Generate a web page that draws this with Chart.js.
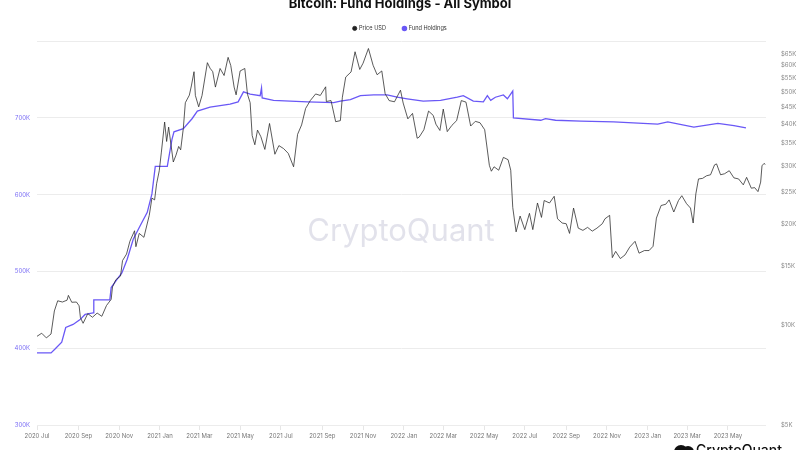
<!DOCTYPE html>
<html><head><meta charset="utf-8">
<script src="https://cdn.jsdelivr.net/npm/chart.js@4/dist/chart.umd.min.js"></script>
<style>
html,body{margin:0;padding:0;background:#fff;overflow:hidden;width:800px;height:450px;}
#wrap{position:absolute;left:0;top:-10px;width:800px;height:460px;}
</style></head>
<body><div id="wrap"><canvas id="c" width="800" height="460"></canvas></div>
<script>
const chartTitle = 'Bitcoin: Fund Holdings - All Symbol';
const seriesNames = ['Price USD', 'Fund Holdings'];

const priceDates = ['2020-07-01','2020-07-08','2020-07-15','2020-07-22','2020-07-27','2020-08-01','2020-08-08','2020-08-15','2020-08-17','2020-08-22','2020-08-29','2020-09-02','2020-09-04','2020-09-08','2020-09-15','2020-09-22','2020-09-29','2020-10-06','2020-10-13','2020-10-20','2020-10-22','2020-10-27','2020-11-03','2020-11-06','2020-11-12','2020-11-17','2020-11-24','2020-11-26','2020-12-01','2020-12-08','2020-12-16','2020-12-20','2020-12-24','2020-12-27','2020-12-31',
'2021-01-03','2021-01-08','2021-01-11','2021-01-14','2021-01-21','2021-01-25','2021-01-29','2021-02-01','2021-02-05','2021-02-08','2021-02-14','2021-02-17','2021-02-21','2021-02-23','2021-02-28','2021-03-05','2021-03-13','2021-03-17','2021-03-21','2021-03-25','2021-04-01','2021-04-07','2021-04-13','2021-04-17','2021-04-22','2021-04-25','2021-05-01','2021-05-08','2021-05-12','2021-05-16','2021-05-19','2021-05-23','2021-05-27','2021-06-01','2021-06-07','2021-06-14','2021-06-22','2021-06-28','2021-07-05','2021-07-12','2021-07-20','2021-07-26','2021-08-01','2021-08-07','2021-08-14','2021-08-22','2021-08-29','2021-09-06','2021-09-07','2021-09-14','2021-09-21','2021-09-28','2021-10-01','2021-10-06','2021-10-14','2021-10-20','2021-10-27','2021-11-01','2021-11-09','2021-11-16','2021-11-22','2021-11-29','2021-12-04','2021-12-10','2021-12-18','2021-12-27','2021-12-31',
'2022-01-07','2022-01-14','2022-01-21','2022-01-24','2022-01-31','2022-02-07','2022-02-14','2022-02-18','2022-02-24','2022-03-01','2022-03-07','2022-03-14','2022-03-21','2022-03-28','2022-04-04','2022-04-11','2022-04-18','2022-04-25','2022-05-02','2022-05-09','2022-05-12','2022-05-16','2022-05-23','2022-05-30','2022-06-06','2022-06-10','2022-06-13','2022-06-18','2022-06-24','2022-07-01','2022-07-08','2022-07-13','2022-07-20','2022-07-26','2022-07-30','2022-08-07','2022-08-14','2022-08-19','2022-08-26','2022-09-01','2022-09-06','2022-09-12','2022-09-19','2022-09-26','2022-10-03','2022-10-10','2022-10-17','2022-10-25','2022-10-29','2022-11-05','2022-11-09','2022-11-14','2022-11-21','2022-11-28','2022-12-05','2022-12-13','2022-12-19','2022-12-27',
'2023-01-03','2023-01-09','2023-01-14','2023-01-21','2023-01-28','2023-02-02','2023-02-09','2023-02-16','2023-02-21','2023-02-28','2023-03-06','2023-03-10','2023-03-14','2023-03-18','2023-03-24','2023-03-30','2023-04-05','2023-04-11','2023-04-14','2023-04-20','2023-04-26','2023-05-03','2023-05-10','2023-05-17','2023-05-24','2023-05-29','2023-06-05','2023-06-10','2023-06-15','2023-06-19','2023-06-21','2023-06-24','2023-06-26'];
const priceValues = [9230,9430,9130,9380,11000,11800,11700,11850,12250,11680,11700,11400,10500,10100,10800,10530,10840,10600,11420,11920,12990,13650,14000,15580,16300,17800,19150,17150,18800,18300,21300,24000,23700,26500,29000,
32800,40600,35500,39200,30800,32300,34300,33500,38900,46400,48900,52100,57500,48800,45100,48800,61200,58900,57500,51700,58800,56000,63500,60000,51700,49000,57800,58800,49200,46400,37000,34700,38400,36700,33600,40200,32500,34500,33800,32700,29800,37300,39800,44600,47100,49300,48800,51800,46800,47100,40700,41000,48200,55400,57400,66000,58400,61000,67500,60100,56300,57800,49400,47100,46700,50600,46300,
41500,43100,36300,36600,38500,43800,42500,40000,38300,44400,38000,39700,41000,47100,46600,39500,40800,40400,38500,30100,28900,29800,29100,31800,31300,29100,22500,19000,21200,19300,21600,19300,23200,21000,23600,23200,24300,20800,20200,20100,18800,22400,19500,19200,19600,19100,19500,20100,20800,21300,15900,16600,15800,16200,17100,17800,16400,16700,
16700,17200,20900,22800,23000,23700,21800,23600,24400,23100,22400,20200,24700,27400,27500,28000,28200,30200,30400,28200,28400,29000,27600,27400,26300,27700,25700,25800,25100,26800,30000,30500,30300];

const fundDates = ['2020-07-01','2020-07-22','2020-07-28','2020-08-07','2020-08-13','2020-08-24','2020-09-03','2020-09-11','2020-09-23','2020-09-24','2020-10-18','2020-10-20','2020-10-29','2020-11-05','2020-11-13','2020-11-22','2020-12-02','2020-12-13','2020-12-20','2020-12-25','2021-01-12','2021-01-19','2021-01-22','2021-02-05','2021-02-18','2021-02-26','2021-03-17','2021-04-16','2021-04-28','2021-05-06','2021-05-16','2021-05-31','2021-06-02','2021-06-03','2021-06-20','2021-07-15','2021-08-10','2021-09-18','2021-09-28','2021-10-13','2021-10-28','2021-11-17','2021-12-07','2021-12-22','2022-01-06','2022-01-30','2022-02-25','2022-03-22','2022-03-31','2022-04-15','2022-04-30','2022-05-06','2022-05-11','2022-05-18','2022-05-30','2022-06-05','2022-06-13','2022-06-14','2022-07-25','2022-08-01','2022-08-16','2022-09-23','2022-11-11','2023-01-16','2023-01-31','2023-03-11','2023-04-16','2023-05-10','2023-05-28'];
const fundValues = [394000,394000,399000,408000,427000,431000,437000,444000,446000,463000,463000,479000,490000,498000,516000,542000,559000,577000,601000,637000,637000,672000,682000,686000,699000,709000,714000,718000,721000,734000,731000,729000,739000,726000,723000,722000,721000,720000,722000,724000,729000,730000,730000,727000,725000,722000,723000,727000,729000,722000,721000,729000,723000,727000,730000,725000,735000,700000,697000,699000,697000,696000,695000,692000,695000,688000,693000,690000,687000];

const xTickDates = ['2020-07-01','2020-09-01','2020-11-01','2021-01-01','2021-03-01','2021-05-01','2021-07-01','2021-09-01','2021-11-01','2022-01-01','2022-03-01','2022-05-01','2022-07-01','2022-09-01','2022-11-01','2023-01-01','2023-03-01','2023-05-01'];
const xTickLabels = ['2020 Jul','2020 Sep','2020 Nov','2021 Jan','2021 Mar','2021 May','2021 Jul','2021 Sep','2021 Nov','2022 Jan','2022 Mar','2022 May','2022 Jul','2022 Sep','2022 Nov','2023 Jan','2023 Mar','2023 May'];
const xStart = '2020-07-01';
const xEnd = '2023-06-27';
const leftTicks = [300000,400000,500000,600000,700000,800000];
const rightTicks = [5000,10000,15000,20000,25000,30000,35000,40000,45000,50000,55000,60000,65000];

const day = d => (Date.parse(d) - Date.parse(xStart)) / 86400000;
const pricePts = priceDates.map((d,i)=>({x:day(d), y:priceValues[i]}));
const fundPts = fundDates.map((d,i)=>({x:day(d), y:fundValues[i]}));

const FONT = 'Inter';
const PURPLE = 'rgb(106,88,246)';

const marks = {
  id:'marks',
  beforeDatasetsDraw(chart){
    const ctx = chart.ctx;
    ctx.save();
    ctx.font = '400 31px Inter';
    ctx.fillStyle = 'rgba(190,190,210,0.45)';
    ctx.textAlign = 'center';
    ctx.textBaseline = 'middle';
    ctx.fillText('CryptoQuant', 401, 242);
    ctx.restore();
  },
  afterDraw(chart){
    const ctx = chart.ctx;
    ctx.save();
    ctx.fillStyle = '#111';
    ctx.beginPath();
    ctx.arc(681, 462, 7, Math.PI, 2*Math.PI);
    ctx.fill();
    ctx.beginPath();
    ctx.arc(688, 462, 6, Math.PI, 2*Math.PI);
    ctx.fill();
    ctx.font = '500 14px Inter';
    ctx.textAlign = 'left';
    ctx.textBaseline = 'alphabetic';
    ctx.fillText('CryptoQuant', 696, 465);
    ctx.restore();
  }
};

new Chart(document.getElementById('c'), {
  type:'line',
  data:{datasets:[
    {label:seriesNames[0], data:pricePts, yAxisID:'yR', borderColor:'rgba(40,40,40,0.85)', backgroundColor:'#222', borderWidth:0.9, pointRadius:0, tension:0},
    {label:seriesNames[1], data:fundPts, yAxisID:'yL', borderColor:PURPLE, backgroundColor:PURPLE, borderWidth:1.3, pointRadius:0, tension:0}
  ]},
  options:{
    responsive:false, animation:false, devicePixelRatio:1,
    layout:{padding:{top:0,left:0,right:0,bottom:0}},
    plugins:{
      title:{display:true, text:chartTitle, color:'#111', font:{family:FONT, size:13, weight:'bold'}, padding:{top:6,bottom:-3}},
      legend:{display:true, maxHeight:33.5, labels:{usePointStyle:true, pointStyle:'circle', boxWidth:3, boxHeight:3, padding:17, color:'#333', font:{family:FONT, size:5.6}}},
      tooltip:{enabled:false}
    },
    scales:{
      x:{type:'linear', min:0, max:day(xEnd),
        afterBuildTicks(s){ s.ticks = xTickDates.map(d=>({value:day(d)})); },
        afterFit(s){ s.height = 25; },
        ticks:{autoSkip:false, maxRotation:0, color:'#777', font:{family:FONT,size:6}, padding:3, callback:(v,i)=>xTickLabels[i]},
        grid:{drawOnChartArea:false, color:'#e6e6e6', tickLength:5},
        border:{display:false}
      },
      yL:{type:'linear', position:'left', min:300000, max:800000,
        afterBuildTicks(s){ s.ticks = leftTicks.map(v=>({value:v})); },
        afterFit(s){ s.width = 37; },
        ticks:{color:'#7b6ef5', font:{family:FONT,size:6}, padding:7, callback:v=> v===800000 ? '' : (v/1000)+'K'},
        grid:{color:'#ececec', drawTicks:false},
        border:{display:false}
      },
      yR:{type:'logarithmic', position:'right', min:5000, max:71000,
        afterBuildTicks(s){ s.ticks = rightTicks.map(v=>({value:v})); },
        afterFit(s){ s.width = 34; },
        ticks:{color:'#888', font:{family:FONT,size:6}, padding:7, callback:v=>'$'+(v/1000)+'K'},
        grid:{display:false},
        border:{display:false}
      }
    }
  },
  plugins:[marks]
});
</script></body></html>
